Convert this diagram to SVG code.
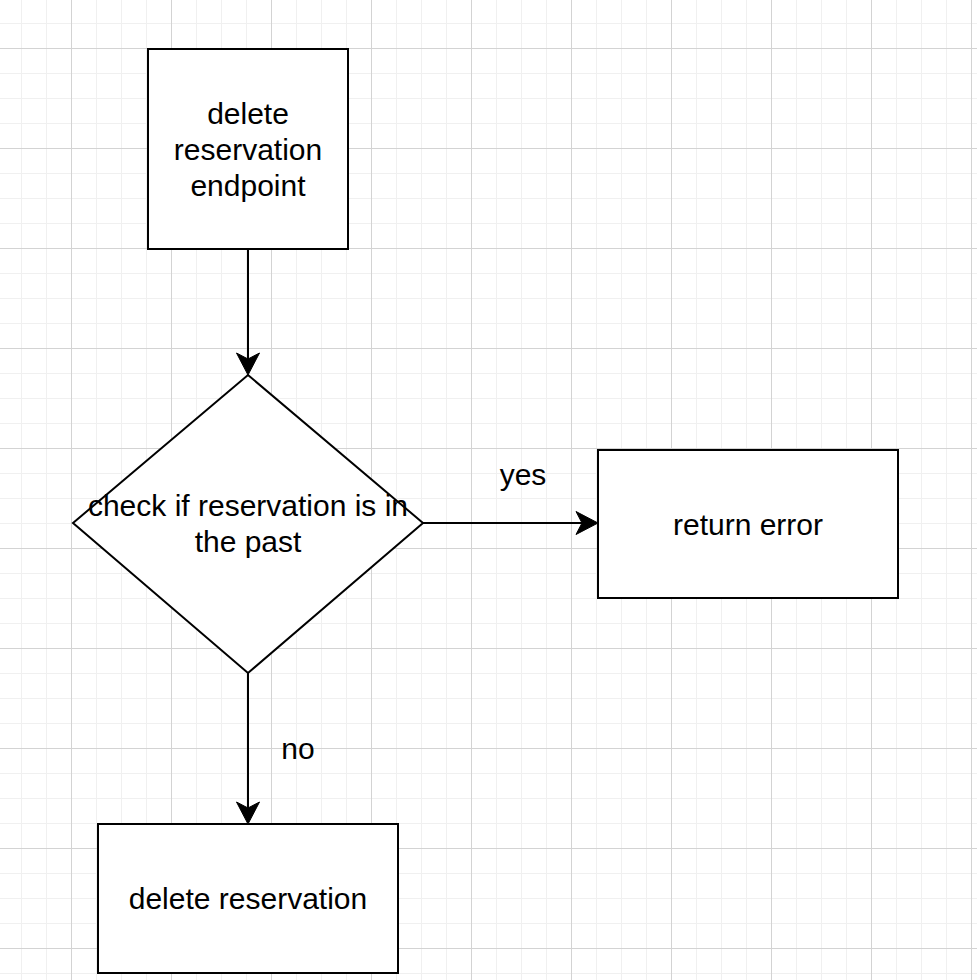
<svg xmlns="http://www.w3.org/2000/svg" width="977" height="980" viewBox="0 0 977 980">
  <defs>
    <pattern id="grid" patternUnits="userSpaceOnUse" x="-29" y="-52" width="100" height="100">
      <path d="M25.5 0V100M50.5 0V100M75.5 0V100M0 25.5H100M0 50.5H100M0 75.5H100" stroke="#f0f0f0" stroke-width="1" fill="none"/>
      <path d="M0.5 0V100M0 0.5H100" stroke="#d3d3d3" stroke-width="1" fill="none"/>
    </pattern>
    <marker id="arrow" markerUnits="userSpaceOnUse" viewBox="-23 -12 24 24" markerWidth="24" markerHeight="24" refX="-16" refY="0" orient="auto" overflow="visible">
      <path d="M0 0L-22 -11.5L-16 0L-22 11.5Z" fill="#000" stroke="#000" stroke-width="1"/>
    </marker>
    <style>
      .box { fill: #fff; stroke: #000; stroke-width: 2; }
      .edge { fill: none; stroke: #000; stroke-width: 2; }
      text { font-family: "Liberation Sans", Arial, sans-serif; font-size: 30px; fill: #000; text-anchor: middle; }
    </style>
  </defs>
  <rect width="977" height="980" fill="#fff"/>
  <rect width="977" height="980" fill="url(#grid)"/>

  <g id="connectors">
    <line class="edge" x1="248" y1="249" x2="248" y2="359" marker-end="url(#arrow)"/>
    <line class="edge" x1="423" y1="523" x2="582" y2="523" marker-end="url(#arrow)"/>
    <line class="edge" x1="248" y1="673" x2="248" y2="808" marker-end="url(#arrow)"/>
    <text x="523" y="485">yes</text>
    <text x="298" y="759">no</text>
  </g>

  <g id="node-endpoint">
    <rect class="box" x="148" y="49" width="200" height="200"/>
    <text x="248" y="124">delete</text>
    <text x="248" y="160">reservation</text>
    <text x="248" y="196">endpoint</text>
  </g>

  <g id="node-check">
    <polygon class="box" points="248,375 423,523 248,673 73,523"/>
    <text x="248" y="516">check if reservation is in</text>
    <text x="248" y="552">the past</text>
  </g>

  <g id="node-error">
    <rect class="box" x="598" y="450" width="300" height="148"/>
    <text x="748" y="535">return error</text>
  </g>

  <g id="node-delete">
    <rect class="box" x="98" y="824" width="300" height="149"/>
    <text x="248" y="909">delete reservation</text>
  </g>
</svg>
